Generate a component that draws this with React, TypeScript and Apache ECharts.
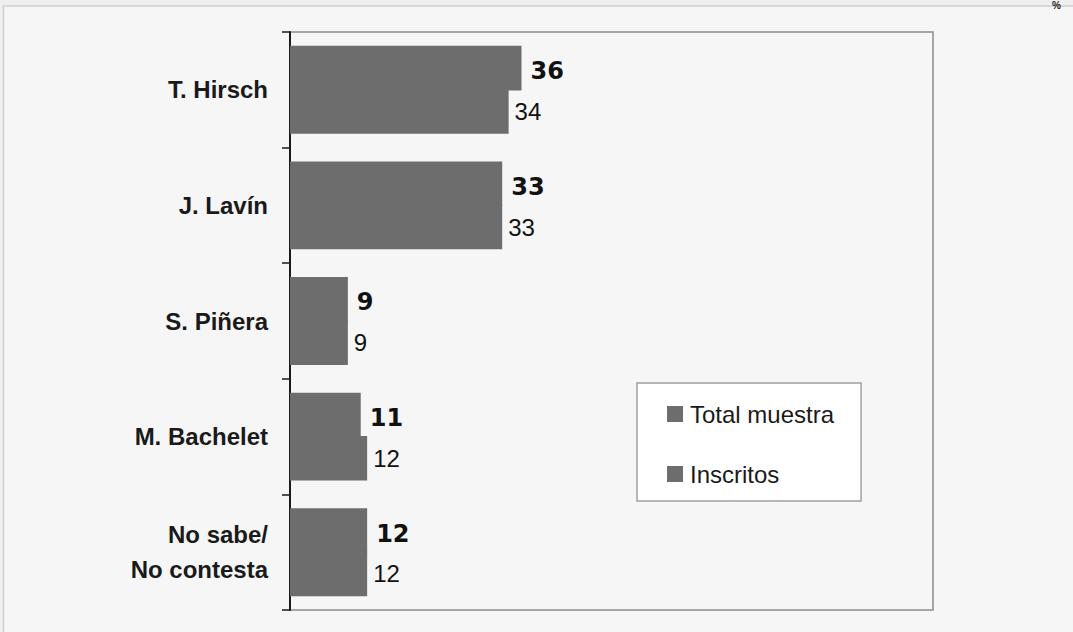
import React, { useEffect, useRef } from "react";
import * as echarts from "echarts";

const categories = ["T. Hirsch", "J. Lavín", "S. Piñera", "M. Bachelet", "No sabe/\nNo contesta"];
const totalMuestra = [36, 33, 9, 11, 12];
const inscritos = [34, 33, 9, 12, 12];
const seriesNames = ["Total muestra", "Inscritos"];

export default function App() {
  const ref = useRef<HTMLDivElement>(null);
  useEffect(() => {
    if (!ref.current) return;
    const chart = echarts.init(ref.current, undefined, { renderer: "svg" });
    const barColor = "#6d6d6d";
    chart.setOption({
      animation: false,
      backgroundColor: "#efefef",
      graphic: [
        {
          type: "rect",
          shape: { x: 3.5, y: 6, width: 1200, height: 800 },
          style: { fill: "#f6f6f6", stroke: "#cfcfcf", lineWidth: 1.5 },
          z: -10,
        },
        {
          type: "text",
          x: 1052,
          y: 0,
          style: { text: "%", fontSize: 10, fontWeight: "bold", fill: "#222", fontFamily: "Liberation Sans" },
        },
      ],
      grid: {
        left: 290,
        top: 32,
        right: 140,
        bottom: 22,
        show: true,
        borderColor: "#8c8c8c",
        borderWidth: 1.5,
        backgroundColor: "transparent",
      },
      legend: {
        orient: "vertical",
        left: 637,
        top: 383,
        backgroundColor: "#ffffff",
        borderColor: "#a0a0a0",
        borderWidth: 1.5,
        borderRadius: 0,
        padding: [19, 27, 15, 30],
        itemWidth: 16,
        itemHeight: 16,
        itemGap: 36,
        icon: "rect",
        selectedMode: false,
        textStyle: {
          fontFamily: "Liberation Sans, Arial, sans-serif",
          fontSize: 24,
          lineHeight: 24,
          color: "#1a1a1a",
          padding: [0, 0, 0, 2],
        },
        data: seriesNames,
      },
      xAxis: {
        type: "value",
        min: 0,
        max: 100,
        show: false,
        splitLine: { show: false },
      },
      yAxis: {
        type: "category",
        inverse: true,
        data: categories,
        axisLine: { show: true, lineStyle: { color: "#1a1a1a", width: 2 } },
        axisTick: { show: true, length: 8, lineStyle: { color: "#1a1a1a", width: 1.5 } },
        axisLabel: {
          margin: 22,
          fontFamily: "Liberation Sans, Arial, sans-serif",
          fontWeight: "bold",
          fontSize: 24,
          lineHeight: 35,
          color: "#1a1a1a",
          align: "right",
        },
        splitLine: { show: false },
      },
      series: [
        {
          name: seriesNames[0],
          type: "bar",
          data: totalMuestra,
          barGap: "-3%",
          barCategoryGap: "24%",
          itemStyle: { color: barColor },
          label: {
            show: true,
            position: "right",
            distance: 9,
            offset: [0, 3],
            fontFamily: "DejaVu Sans, sans-serif",
            fontWeight: "bold",
            fontSize: 24,
            color: "#111",
          },
        },
        {
          name: seriesNames[1],
          type: "bar",
          data: inscritos,
          barGap: "-3%",
          barCategoryGap: "24%",
          itemStyle: { color: barColor },
          label: {
            show: true,
            position: "right",
            distance: 6,
            fontFamily: "Liberation Sans, Arial, sans-serif",
            fontSize: 24,
            color: "#111",
          },
        },
      ],
    });
    return () => chart.dispose();
  }, []);
  return (
    <div
      ref={ref}
      style={{ position: "fixed", left: 0, top: 0, width: 1073, height: 632 }}
    />
  );
}
